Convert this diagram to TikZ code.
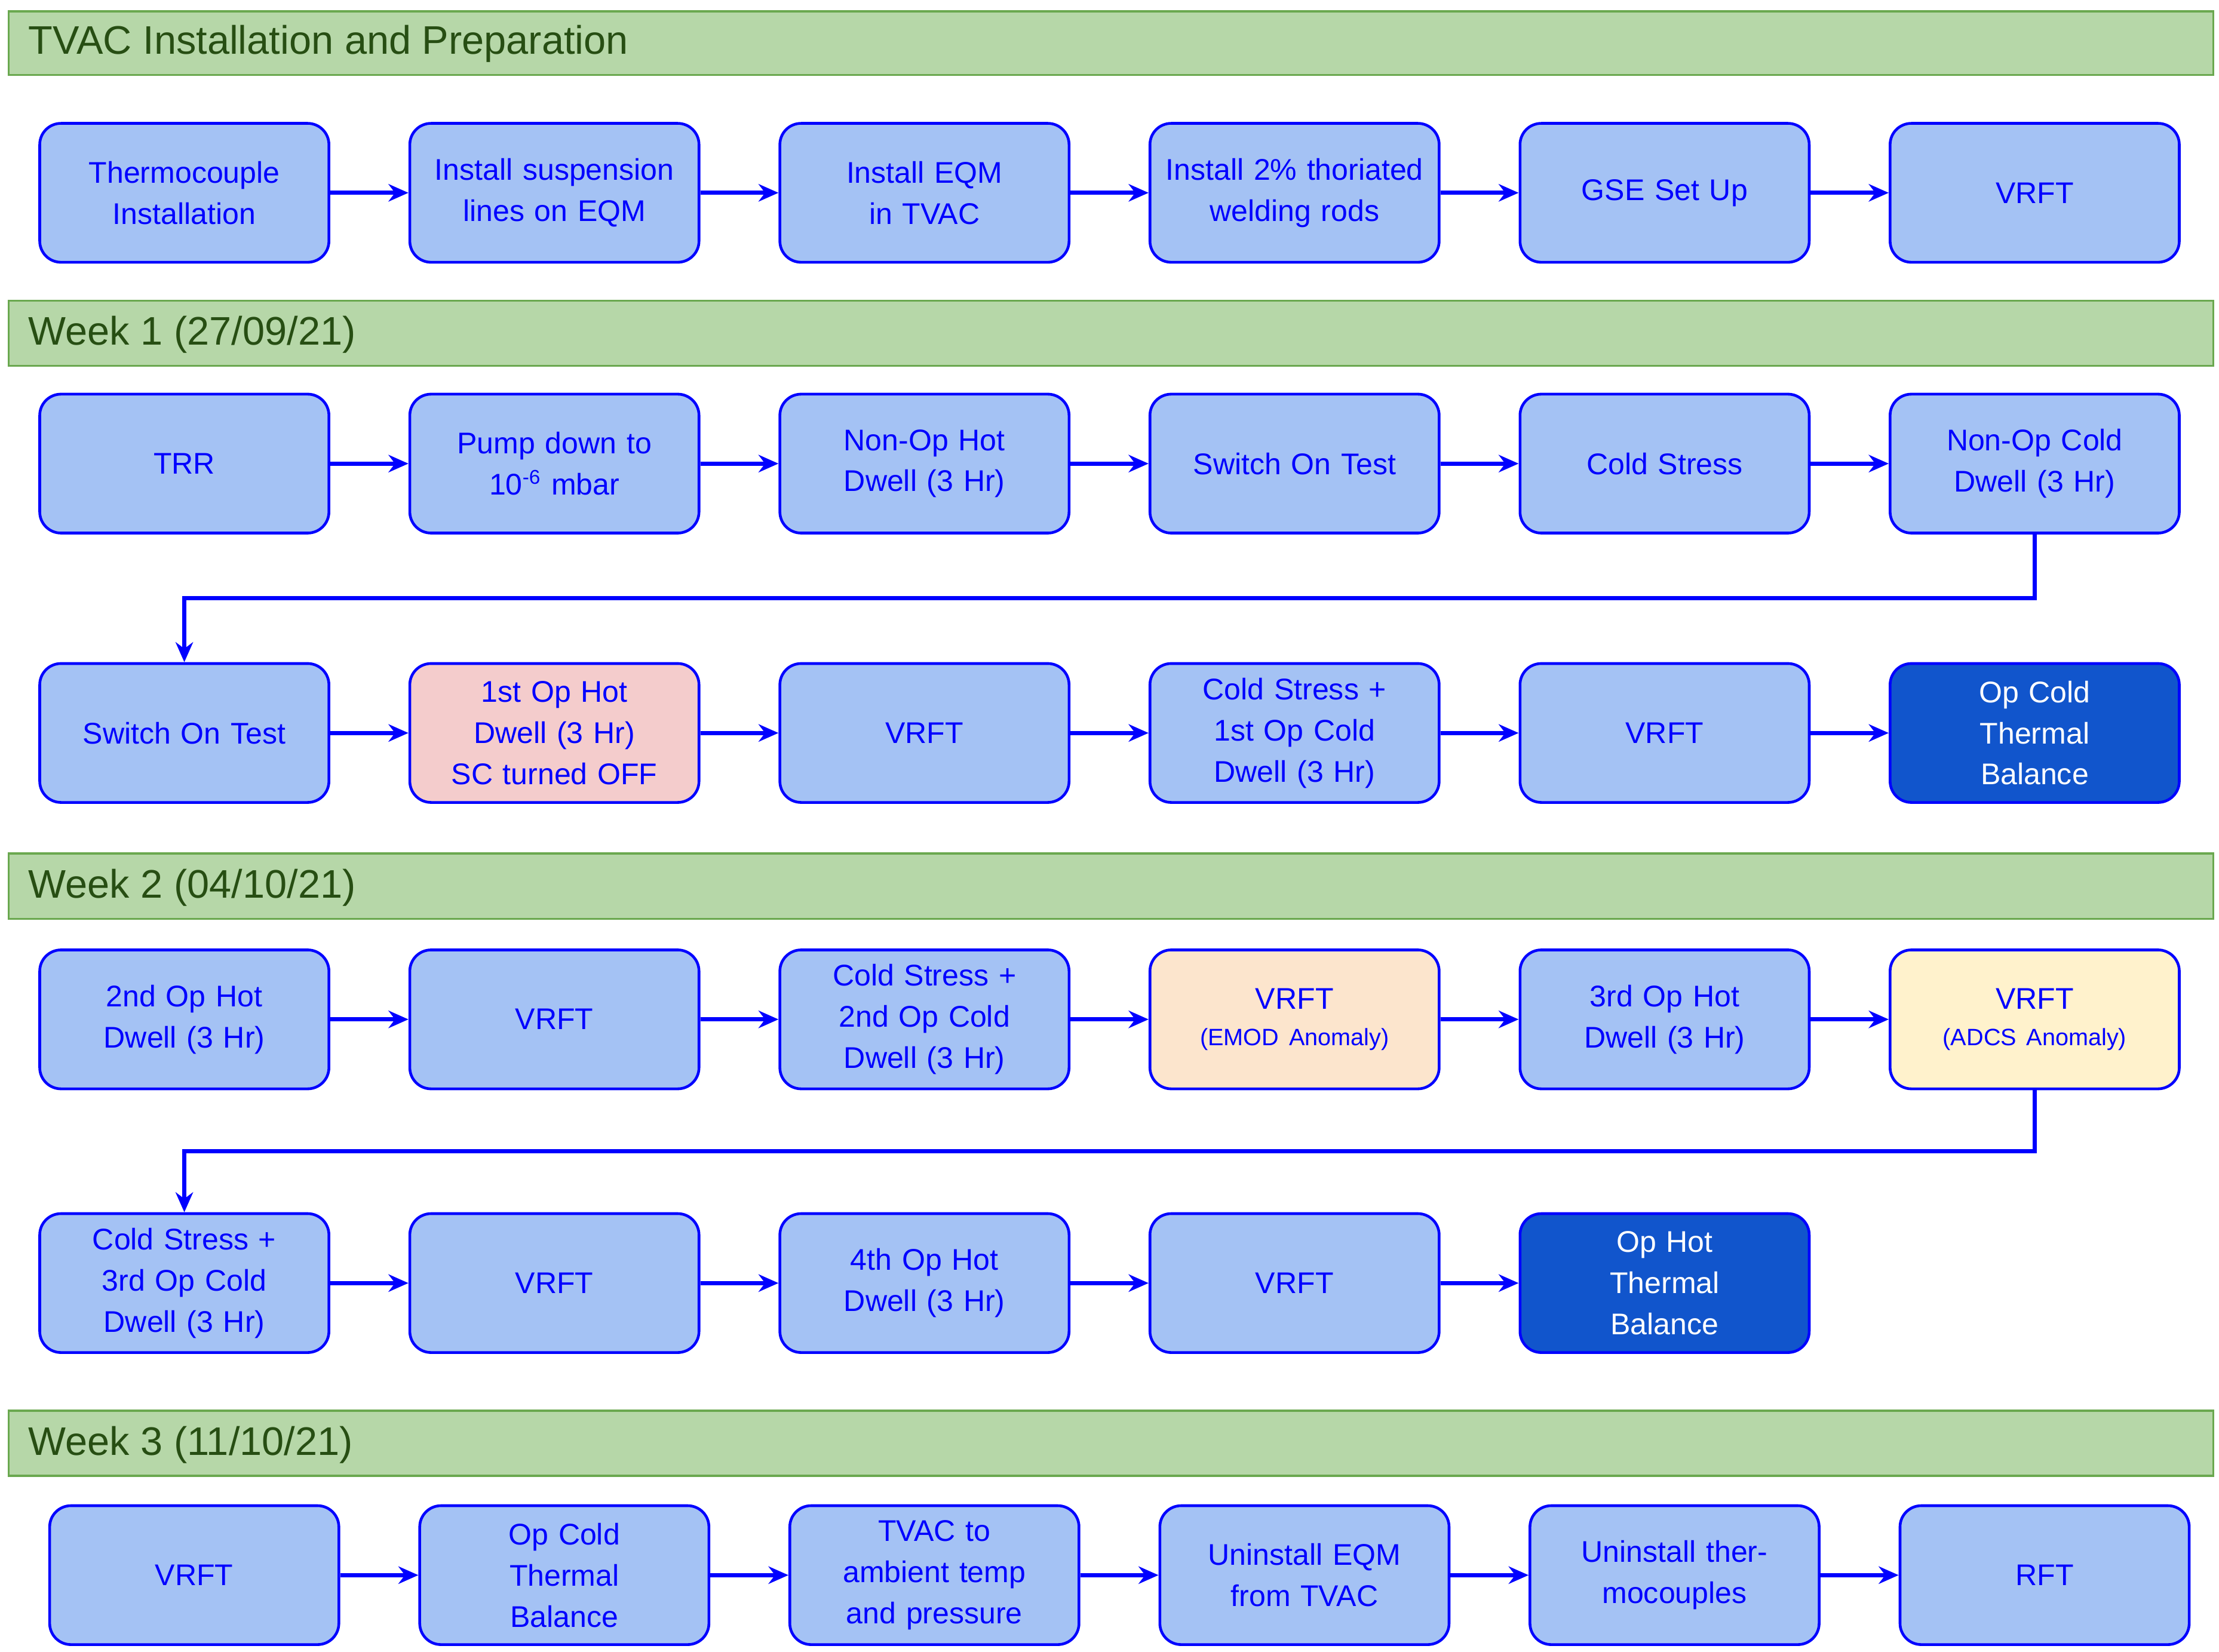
\documentclass[tikz,border=0pt]{standalone}
\usepackage{fontspec}
\setmainfont{Liberation Sans}
\usetikzlibrary{arrows.meta}
\definecolor{boxfill}{HTML}{A4C2F4}
\definecolor{boxline}{HTML}{0000FF}
\definecolor{darkfill}{HTML}{1155CC}
\definecolor{hdrfill}{HTML}{B6D7A8}
\definecolor{hdrline}{HTML}{6AA84F}
\definecolor{hdrtext}{HTML}{274E13}
\definecolor{pinkfill}{HTML}{F4CCCC}
\definecolor{orangefill}{HTML}{FCE5CD}
\definecolor{yellowfill}{HTML}{FFF2CC}
\tikzset{
  box/.style={draw=boxline, line width=1.1pt, fill=boxfill, rounded corners=0.3cm,
    minimum width=4.08cm, minimum height=1.96cm, text width=3.8cm, align=center,
    text=boxline, font=\fontsize{12}{16.5}\selectfont},
  dark/.style={box, fill=darkfill, text=white},
  arr/.style={-{Stealth[length=8pt,width=7pt]}, draw=boxline, line width=1.6pt},
  hdr/.style={draw=hdrline, line width=0.8pt, fill=hdrfill},
  hdrlabel/.style={anchor=west, text=hdrtext, font=\fontsize{16}{20}\selectfont}
}
\newcommand{\sub}[1]{\\[-2pt]{\fontsize{9.5}{12}\selectfont #1}}
\begin{document}
\begin{tikzpicture}[x=0.02cm,y=-0.02cm]
\useasboundingbox (0,0) rectangle (1565,1165);
% headers
\draw [hdr] (6,8) rectangle (1561,53);
\node [hdrlabel] (h0) at (14,31) {TVAC Installation and Preparation};
\draw [hdr] (6,212) rectangle (1561,258);
\node [hdrlabel] (h1) at (14,236) {Week 1 (27/09/21)};
\draw [hdr] (6,602) rectangle (1561,648);
\node [hdrlabel] (h2) at (14,626) {Week 2 (04/10/21)};
\draw [hdr] (6,995) rectangle (1561,1041);
\node [hdrlabel] (h3) at (14,1019) {Week 3 (11/10/21)};
% preparation
\node [box] (p1) at (130,136) {Thermocouple Installation};
\node [box] (p2) at (391,136) {Install suspension lines on EQM};
\node [box] (p3) at (652,136) {Install EQM in TVAC};
\node [box] (p4) at (913,136) {Install 2\% thoriated welding rods};
\node [box] (p5) at (1174,136) {GSE Set Up};
\node [box] (p6) at (1435,136) {VRFT};
% week 1
\node [box] (a1) at (130,327) {TRR};
\node [box] (a2) at (391,327) {Pump down to\\10\textsuperscript{-6} mbar};
\node [box] (a3) at (652,327) {Non-Op Hot Dwell (3 Hr)};
\node [box] (a4) at (913,327) {Switch On Test};
\node [box] (a5) at (1174,327) {Cold Stress};
\node [box] (a6) at (1435,327) {Non-Op Cold Dwell (3 Hr)};
\node [box] (b1) at (130,517) {Switch On Test};
\node [box, fill=pinkfill] (b2) at (391,517) {1st Op Hot\\Dwell (3 Hr)\\SC turned OFF};
\node [box] (b3) at (652,517) {VRFT};
\node [box] (b4) at (913,517) {Cold Stress +\\1st Op Cold\\Dwell (3 Hr)};
\node [box] (b5) at (1174,517) {VRFT};
\node [dark] (b6) at (1435,517) {Op Cold\\Thermal\\Balance};
% week 2
\node [box] (c1) at (130,719) {2nd Op Hot\\Dwell (3 Hr)};
\node [box] (c2) at (391,719) {VRFT};
\node [box] (c3) at (652,719) {Cold Stress +\\2nd Op Cold\\Dwell (3 Hr)};
\node [box, fill=orangefill] (c4) at (913,719) {VRFT\sub{(EMOD Anomaly)}};
\node [box] (c5) at (1174,719) {3rd Op Hot\\Dwell (3 Hr)};
\node [box, fill=yellowfill] (c6) at (1435,719) {VRFT\sub{(ADCS Anomaly)}};
\node [box] (d1) at (130,905) {Cold Stress +\\3rd Op Cold\\Dwell (3 Hr)};
\node [box] (d2) at (391,905) {VRFT};
\node [box] (d3) at (652,905) {4th Op Hot\\Dwell (3 Hr)};
\node [box] (d4) at (913,905) {VRFT};
\node [dark] (d5) at (1174,905) {Op Hot\\Thermal\\Balance};
% week 3
\node [box] (e1) at (137,1111) {VRFT};
\node [box] (e2) at (398,1111) {Op Cold\\Thermal\\Balance};
\node [box] (e3) at (659,1111) {TVAC to\\ambient temp\\and pressure};
\node [box] (e4) at (920,1111) {Uninstall EQM from TVAC};
\node [box] (e5) at (1181,1111) {Uninstall thermocouples};
\node [box] (e6) at (1442,1111) {RFT};
% arrows
\foreach \r/\n in {p/6,a/6,b/6,c/6,d/5,e/6}{
  \foreach \i [evaluate=\i as \j using int(\i+1)] in {1,...,5}{
    \ifnum\i<\n \draw [arr] (\r\i.east) -- (\r\j.west); \fi
  }
}
\coordinate (k1) at (1435,422);
\draw [arr] (a6.south) -- (k1) -| (b1.north);
\coordinate (k2) at (1435,812);
\draw [arr] (c6.south) -- (k2) -| (d1.north);
\end{tikzpicture}
\end{document}
